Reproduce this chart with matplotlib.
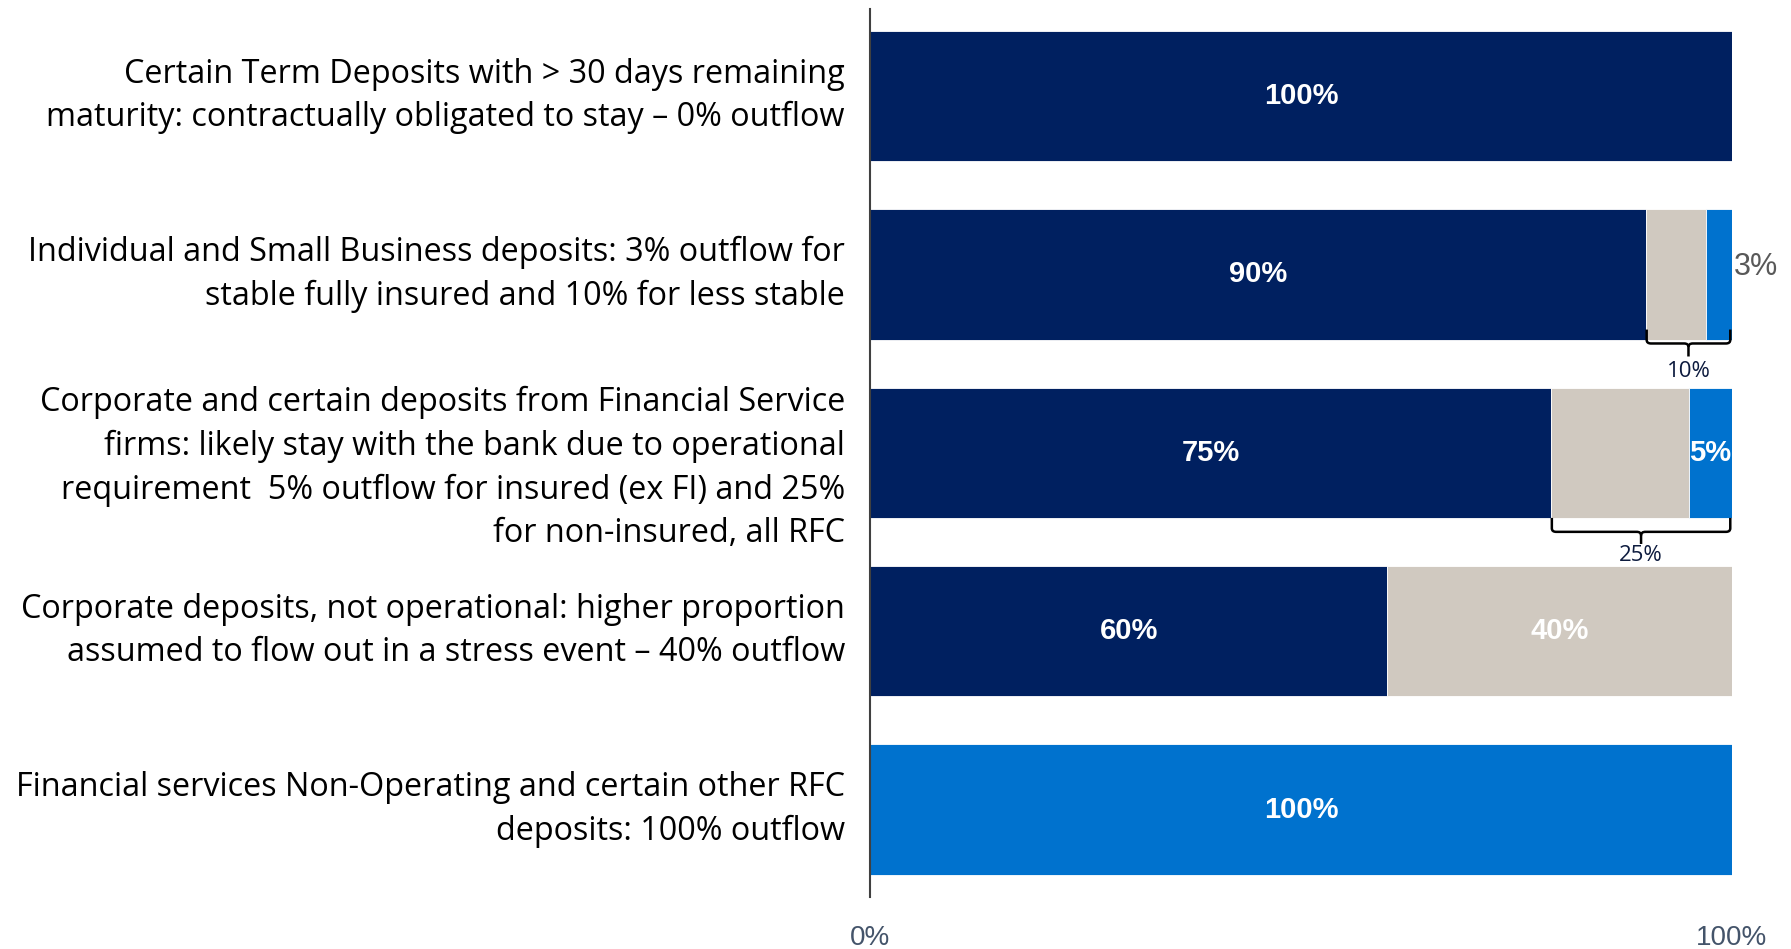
import matplotlib
matplotlib.use("Agg")
import matplotlib.pyplot as plt
from matplotlib.path import Path
from matplotlib.patches import PathPatch

categories = [
    "Certain Term Deposits with > 30 days remaining\nmaturity: contractually obligated to stay \u2013 0% outflow",
    "Individual and Small Business deposits: 3% outflow for\nstable fully insured and 10% for less stable",
    "Corporate and certain deposits from Financial Service\nfirms: likely stay with the bank due to operational\nrequirement  5% outflow for insured (ex FI) and 25%\nfor non-insured, all RFC",
    "Corporate deposits, not operational: higher proportion\nassumed to flow out in a stress event \u2013 40% outflow",
    "Financial services Non-Operating and certain other RFC\ndeposits: 100% outflow",
]
stay = [100, 90, 79, 60, 0]
less_stable = [0, 7, 16, 40, 0]
outflow = [0, 3, 5, 0, 100]
stay_labels = ["100%", "90%", "75%", "60%", ""]
less_labels = ["", "", "", "40%", ""]
outflow_labels = ["", "3%", "5%", "", "100%"]
bracket_rows = [1, 2]
bracket_labels = ["10%", "25%"]
tick_vals = [0, 100]
tick_labels = ["0%", "100%"]

NAVY = "#002060"
BEIGE = "#D0C9C0"
BLUE = "#0072CE"

fig = plt.figure(figsize=(17.91, 9.49), dpi=100)
ax = fig.add_axes([870/1791, 1-897/949, (1732-870)/1791, (897-9)/949])

ypos = list(range(len(categories)))
h = 0.73
ax.barh(ypos, stay, height=h, color=NAVY, edgecolor="white", linewidth=0.6)
ax.barh(ypos, less_stable, left=stay, height=h, color=BEIGE, edgecolor="white", linewidth=0.6)
left2 = [a + b for a, b in zip(stay, less_stable)]
ax.barh(ypos, outflow, left=left2, height=h, color=BLUE, edgecolor="white", linewidth=0.6)

vfont = dict(family=["Liberation Sans", "DejaVu Sans"], fontsize=21, fontweight="bold")
for i in ypos:
    if stay_labels[i]:
        ax.text(stay[i] / 2, i, stay_labels[i], ha="center", va="center", color="white", **vfont)
    if less_labels[i]:
        ax.text(stay[i] + less_stable[i] / 2, i, less_labels[i], ha="center", va="center", color="white", **vfont)
    if outflow_labels[i]:
        if outflow[i] >= 5:
            ax.text(left2[i] + outflow[i] / 2, i, outflow_labels[i], ha="center", va="center", color="white", **vfont)
        else:
            ax.text(left2[i] + outflow[i] + 0.2, i - 0.04, outflow_labels[i], ha="left", va="center",
                    color="#595959", family=["Liberation Sans", "DejaVu Sans"], fontsize=22)

# brackets (curly-brace style)
bracket_geom = {1: (-0.056, 0.022, 0.095, 0.18), 2: (0.0, 0.078, 0.146, 0.213)}
for r, lab in zip(bracket_rows, bracket_labels):
    x0 = stay[r] + 0.1
    x1 = 99.8
    bot = r + h / 2
    dt, db, dc, dl = bracket_geom[r]
    yt, yb, yc = bot + dt, bot + db, bot + dc
    xm = (x0 + x1) / 2
    rx = 0.5
    ry = 0.02
    verts = [(x0, yt), (x0, yb - ry), (x0, yb), (x0 + rx, yb),
             (xm - rx, yb), (xm, yb), (xm, yb + ry), (xm, yc)]
    codes = [Path.MOVETO, Path.LINETO, Path.CURVE3, Path.CURVE3,
             Path.LINETO, Path.CURVE3, Path.CURVE3, Path.LINETO]
    ax.add_patch(PathPatch(Path(verts, codes), fill=False, lw=1.8, edgecolor="black", clip_on=False))
    verts2 = [(x1, yt), (x1, yb - ry), (x1, yb), (x1 - rx, yb),
              (xm + rx, yb), (xm, yb), (xm, yb + ry)]
    codes2 = [Path.MOVETO, Path.LINETO, Path.CURVE3, Path.CURVE3,
              Path.LINETO, Path.CURVE3, Path.CURVE3]
    ax.add_patch(PathPatch(Path(verts2, codes2), fill=False, lw=1.8, edgecolor="black", clip_on=False))
    ax.text(xm, bot + dl, lab, ha="center", va="center", color="#0D1B3E",
            family=["Open Sans", "DejaVu Sans"], fontsize=16)

ax.set_xlim(0, 100)
ax.set_ylim(4.49, -0.488)
ax.set_yticks([])
ax.set_xticks(tick_vals)
ax.set_xticklabels(tick_labels, family=["Liberation Sans", "DejaVu Sans"], fontsize=20, color="#44546A")
ax.tick_params(axis="x", length=0, pad=20)
for s in ["top", "right", "bottom"]:
    ax.spines[s].set_visible(False)
ax.spines["left"].set_color("#404040")
ax.spines["left"].set_linewidth(1.5)

text_shift = {2: 15}
for i, c in enumerate(categories):
    ax.annotate(c, xy=(0, i), xycoords="data", xytext=(-25, -text_shift.get(i, 0)), textcoords="offset pixels",
                ha="right", va="center", multialignment="right", fontsize=23.3,
                family=["Open Sans", "DejaVu Sans"], color="black", linespacing=1.42)

fig.savefig("out.png", dpi=100)
